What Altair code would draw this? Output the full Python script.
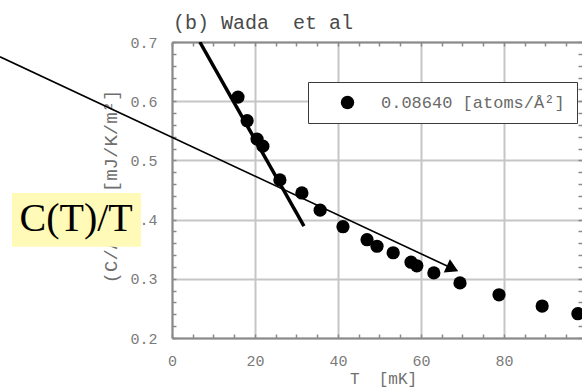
import altair as alt
import pandas as pd

# ---- data ----
T_mK = [15.9, 18.1, 20.5, 21.9, 26.0, 31.3, 35.7, 41.2, 47.0, 49.4, 53.3,
        57.6, 59.0, 63.1, 69.4, 78.8, 89.2, 97.8]
C_over_T = [0.607, 0.567, 0.536, 0.524, 0.467, 0.445, 0.416, 0.388, 0.366,
            0.355, 0.344, 0.328, 0.322, 0.310, 0.293, 0.273, 0.254, 0.241]
series_label = "0.08640 [atoms/Å²]"

fit_T = [6.7, 31.8]
fit_C = [0.700, 0.389]

arrow_T = [-41.45, 66.3]
arrow_C = [0.675, 0.3216]
arrowhead_T = [67.6]
arrowhead_C = [0.3174]

box_T = [-38.55, -7.47]
box_C = [0.445, 0.354]
label_T = [-23.1]
label_C = [0.401]
label_text = ["C(T)/T"]

title_T = [0.25]
title_C = [0.722]
title_text = ["(b) Wada\u00a0\u00a0et al"]

x_major = [0, 20, 40, 60, 80, 100]
x_minor = [0, 5, 10, 15, 20, 25, 30, 35, 40, 45, 50, 55, 60, 65, 70, 75, 80, 85, 90, 95]
y_major = [0.2, 0.3, 0.4, 0.5, 0.6, 0.7]
y_minor = [0.2, 0.22, 0.24, 0.26, 0.28, 0.3, 0.32, 0.34, 0.36, 0.38, 0.4,
           0.42, 0.44, 0.46, 0.48, 0.5, 0.52, 0.54, 0.56, 0.58, 0.6, 0.62,
           0.64, 0.66, 0.68, 0.7]

x_title = "T\u00a0\u00a0[mK]"
y_title = "(C/A)/T [mJ/K/m²]"

# ---- layout / style ----
W, H = 410, 296
MONO = "Liberation Mono"
GRID = "#c6c6c6"
AXC = "#8a8a8a"
LAB = "#7a7a7a"

xs = alt.Scale(domain=[0, 98.8], nice=False, zero=False)
ys = alt.Scale(domain=[0.2, 0.7], nice=False, zero=False)

pts = pd.DataFrame({"T": T_mK, "C": C_over_T, "series": [series_label] * len(T_mK)})
fit = pd.DataFrame({"T": fit_T, "C": fit_C})
arr = pd.DataFrame({"T": arrow_T, "C": arrow_C})
head = pd.DataFrame({"T": arrowhead_T, "C": arrowhead_C})
box = pd.DataFrame({"T": [box_T[0]], "T2": [box_T[1]], "C": [box_C[0]], "C2": [box_C[1]]})
lbl = pd.DataFrame({"T": label_T, "C": label_C, "t": label_text})
ttl = pd.DataFrame({"T": title_T, "C": title_C, "t": title_text})

x_main = alt.Axis(orient="bottom", values=x_major, grid=True, gridColor=GRID, gridWidth=2,
                  ticks=False, tickSize=0, domain=True, domainColor=AXC, domainWidth=2,
                  labelFont=MONO, labelFontSize=15, labelColor=LAB, labelPadding=15,
                  labelFlush=False, labelOverlap=False,
                  title=x_title, titleFont=MONO, titleFontSize=16, titleFontWeight="normal",
                  titleColor="#6f6f6f", titleX=211, titleY=40, titleBaseline="middle",
                  titleAlign="center")
y_main = alt.Axis(orient="left", values=y_major, format=".1f", grid=True, gridColor=GRID,
                  gridWidth=2, ticks=False, tickSize=0, domain=True, domainColor=AXC,
                  domainWidth=2, labelFont=MONO, labelFontSize=15, labelColor=LAB,
                  labelPadding=15, labelFlush=False, labelOverlap=False,
                  title=y_title, titleFont=MONO, titleFontSize=19, titleFontWeight="normal",
                  titleColor="#6f6f6f", titleAngle=270, titleX=-62, titleY=144,
                  titleBaseline="middle", titleAlign="center")

points = alt.Chart(pts).mark_circle(size=175, opacity=1).encode(
    x=alt.X("T:Q", scale=xs, axis=x_main),
    y=alt.Y("C:Q", scale=ys, axis=y_main),
    color=alt.Color("series:N", scale=alt.Scale(range=["black"]),
                    legend=alt.Legend(orient="none", legendX=136, legendY=40, title=None,
                                      fillColor="white", strokeColor="#3a3a3a",
                                      padding=12, symbolType="circle", symbolSize=180,
                                      symbolStrokeWidth=0, symbolOffset=19, labelOffset=25,
                                      labelFont=MONO, labelFontSize=17, labelColor="#6a6a6a",
                                      labelLimit=400)),
)

fit_line = alt.Chart(fit).mark_line(color="black", strokeWidth=3.5, clip=True).encode(
    x=alt.X("T:Q", scale=xs, axis=None), y=alt.Y("C:Q", scale=ys, axis=None))

arrow_line = alt.Chart(arr).mark_line(color="black", strokeWidth=1.6, clip=False).encode(
    x=alt.X("T:Q", scale=xs, axis=None), y=alt.Y("C:Q", scale=ys, axis=None))

arrow_head = alt.Chart(head).mark_point(shape="triangle-right", filled=True, color="black",
                                        opacity=1, size=210, angle=25, clip=False).encode(
    x=alt.X("T:Q", scale=xs, axis=None), y=alt.Y("C:Q", scale=ys, axis=None))

ybox = alt.Chart(box).mark_rect(color="#fffab8", clip=False).encode(
    x=alt.X("T:Q", scale=xs, axis=None), x2="T2:Q",
    y=alt.Y("C:Q", scale=ys, axis=None), y2="C2:Q")

ytext = alt.Chart(lbl).mark_text(font="Liberation Serif", fontSize=40, color="black",
                                 align="center", baseline="middle", clip=False).encode(
    x=alt.X("T:Q", scale=xs, axis=None), y=alt.Y("C:Q", scale=ys, axis=None), text="t:N")

title_mark = alt.Chart(ttl).mark_text(font=MONO, fontSize=20, color="#4a4a4a",
                                      align="left", baseline="alphabetic",
                                      clip=False).encode(
    x=alt.X("T:Q", scale=xs, axis=None), y=alt.Y("C:Q", scale=ys, axis=None), text="t:N")


def tick_layer(xaxis, yaxis):
    return alt.Chart(pts).mark_point(opacity=0).encode(
        x=alt.X("T:Q", scale=xs, axis=xaxis), y=alt.Y("C:Q", scale=ys, axis=yaxis))


tick_common = dict(labels=False, grid=False, title=None, tickColor=AXC, tickWidth=1.5,
                   tickSize=4)
bottom_ticks = tick_layer(alt.Axis(orient="top", offset=-H, values=x_minor, domain=False,
                                   **tick_common), None)
top_ticks = tick_layer(alt.Axis(orient="bottom", offset=-H, values=x_minor, domain=True,
                                domainColor=AXC, domainWidth=2, **tick_common), None)
left_ticks = tick_layer(None, alt.Axis(orient="right", offset=-W, values=y_minor,
                                       domain=False, **tick_common))
right_ticks = tick_layer(None, alt.Axis(orient="left", offset=-W, values=y_minor,
                                        domain=False, **tick_common))

chart = alt.layer(
    bottom_ticks, top_ticks, left_ticks, right_ticks,
    fit_line, points, arrow_line, arrow_head, ybox, ytext, title_mark,
).resolve_axis(x="independent", y="independent").properties(
    width=W, height=H,
    autosize=alt.AutoSizeParams(type="none"),
    padding={"left": 172, "top": 42, "right": 0, "bottom": 51},
).configure_view(stroke=None).configure(background="white")

chart.save("out.html", embed_options={"renderer": "svg", "actions": False})
